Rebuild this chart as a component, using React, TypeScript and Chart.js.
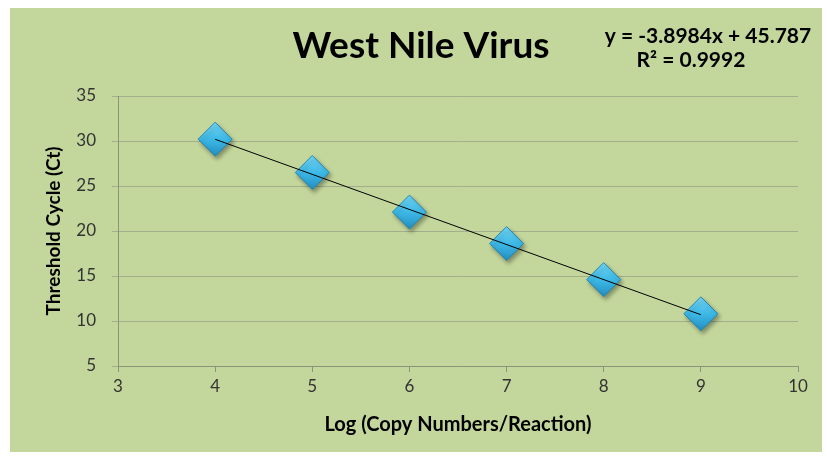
import React, { useEffect, useRef } from "react";
import { Chart, registerables } from "chart.js";

Chart.register(...registerables);

const logCopies = [4, 5, 6, 7, 8, 9];
const thresholdCycle = [30.2, 26.5, 22.1, 18.6, 14.6, 10.8];
const trendX = [4, 9];
const trendY = [30.19, 10.70];
const xTicks = [3, 4, 5, 6, 7, 8, 9, 10];
const yTicks = [5, 10, 15, 20, 25, 30, 35];
const titleText = "West Nile Virus";
const equationText = "y = -3.8984x + 45.787";
const r2Text = "R² = 0.9992";
const xTitle = "Log (Copy Numbers/Reaction)";
const yTitle = "Threshold Cycle (Ct)";

const FONT = "Lato, 'Open Sans', sans-serif";

const textPlugin = {
  id: "headerText",
  afterDraw(chart: any) {
    const ctx = chart.ctx;
    ctx.save();
    ctx.fillStyle = "#000";
    ctx.textBaseline = "middle";
    ctx.textAlign = "center";
    ctx.font = `bold 37px ${FONT}`;
    ctx.fillText(titleText, 411, 38);
    ctx.font = `bold 21px ${FONT}`;
    ctx.fillText(equationText, 698, 28);
    ctx.fillText(r2Text, 681, 52);
    ctx.restore();
  },
};

const shadowPlugin = {
  id: "markerShadow",
  beforeDatasetDraw(chart: any, args: any) {
    if (args.index === 0) {
      const ctx = chart.ctx;
      ctx.save();
      ctx.shadowColor = "rgba(0,0,0,0.35)";
      ctx.shadowBlur = 4;
      ctx.shadowOffsetX = 2;
      ctx.shadowOffsetY = 3;
    }
  },
  afterDatasetDraw(chart: any, args: any) {
    if (args.index === 0) chart.ctx.restore();
  },
};

export default function App() {
  const ref = useRef<HTMLCanvasElement>(null);
  useEffect(() => {
    document.body.style.margin = "0";
    const canvas = ref.current!;
    const chart = new Chart(canvas, {
      type: "scatter",
      data: {
        datasets: [
          {
            label: "Ct",
            data: logCopies.map((x, i) => ({ x, y: thresholdCycle[i] })),
            pointStyle: "rectRot",
            pointRadius: 17,
            pointHoverRadius: 17,
            borderWidth: 1,
            borderColor: "#2386B0",
            backgroundColor: (c: any) => {
              const ch = c.chart;
              const raw = c.raw;
              if (!raw || !ch.scales || !ch.scales.x || !ch.scales.y) return "#3DB6E3";
              const px = ch.scales.x.getPixelForValue(raw.x);
              const py = ch.scales.y.getPixelForValue(raw.y);
              if (!isFinite(px) || !isFinite(py)) return "#3DB6E3";
              const g = ch.ctx.createLinearGradient(px, py - 17, px, py + 17);
              g.addColorStop(0, "#74D6F6");
              g.addColorStop(0.5, "#3DB9E6");
              g.addColorStop(1, "#238FC2");
              return g;
            },
            order: 1,
          },
          {
            label: "Trend",
            type: "line",
            data: trendX.map((x, i) => ({ x, y: trendY[i] })),
            borderColor: "#000",
            borderWidth: 1,
            pointRadius: 0,
            showLine: true,
            fill: false,
            order: 0,
          } as any,
        ],
      },
      options: {
        animation: false,
        responsive: false,
        events: [],
        layout: { padding: { top: 88, right: 24, bottom: 0, left: 0 } },
        plugins: {
          legend: { display: false },
          tooltip: { enabled: false },
          title: { display: false },
        },
        scales: {
          x: {
            type: "linear",
            min: 3,
            max: 10,
            afterBuildTicks: (s: any) => {
              s.ticks = xTicks.map((v) => ({ value: v }));
            },
            afterFit: (s: any) => {
              s.height = 86;
            },
            grid: {
              drawOnChartArea: false,
              drawTicks: true,
              tickLength: 6,
              color: "#8A9478",
            },
            border: { color: "#8A9478", width: 1 },
            ticks: {
              color: "#333",
              font: { family: FONT, size: 17 },
              padding: 4,
            },
            title: {
              display: true,
              text: xTitle,
              color: "#000",
              font: { family: FONT, size: 20, weight: "bold" },
              padding: { top: 10, bottom: 15 },
            },
          },
          y: {
            type: "linear",
            min: 5,
            max: 35,
            afterBuildTicks: (s: any) => {
              s.ticks = yTicks.map((v) => ({ value: v }));
            },
            afterFit: (s: any) => {
              s.width = 108;
            },
            grid: {
              drawOnChartArea: true,
              drawTicks: true,
              tickLength: 6,
              color: "#A3AE8D",
            },
            border: { color: "#8A9478", width: 1 },
            ticks: {
              color: "#333",
              font: { family: FONT, size: 17 },
              padding: 16,
            },
            title: {
              display: true,
              text: yTitle,
              color: "#000",
              font: { family: FONT, size: 19, weight: "bold" },
              padding: { top: 32, bottom: 4 },
            },
          },
        },
      },
      plugins: [textPlugin, shadowPlugin],
    } as any);
    return () => chart.destroy();
  }, []);

  return (
    <div style={{ position: "relative", width: 827, height: 456, background: "#fff" }}>
      <canvas
        ref={ref}
        width={812}
        height={444}
        style={{ position: "absolute", left: 10, top: 8, width: 812, height: 444, background: "#C3D69B" }}
      />
    </div>
  );
}
